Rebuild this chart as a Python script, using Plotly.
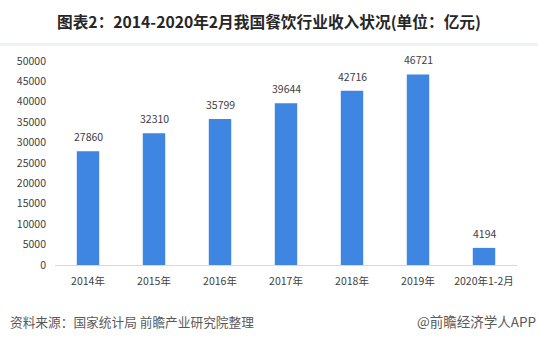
import plotly.graph_objects as go

categories = ["2014年", "2015年", "2016年", "2017年", "2018年", "2019年", "2020年1-2月"]
revenue = [27860, 32310, 35799, 39644, 42716, 46721, 4194]
y_ticks = [0, 5000, 10000, 15000, 20000, 25000, 30000, 35000, 40000, 45000, 50000]

FONT = "Noto Sans CJK SC"

fig = go.Figure(
    go.Bar(
        x=categories,
        y=revenue,
        width=0.34,
        marker=dict(color="#3F85E2", line=dict(width=0)),
        hoverinfo="skip",
    )
)

# value labels above each bar
for cat, val in zip(categories, revenue):
    fig.add_annotation(
        x=cat, y=val, text=str(val),
        xref="x", yref="y",
        showarrow=False, yanchor="bottom", yshift=5,
        font=dict(family=FONT, size=10.5, color="#404040"),
    )

fig.update_layout(
    width=538,
    height=341,
    margin=dict(l=55, r=21, t=61, b=76),
    paper_bgcolor="white",
    plot_bgcolor="white",
    showlegend=False,
    font=dict(family=FONT, size=10.5, color="#404040"),
    title=dict(
        text="<b>图表2：2014-2020年2月我国餐饮行业收入状况(单位：亿元)</b>",
        x=0.5,
        xanchor="center",
        y=0.935,
        yanchor="middle",
        font=dict(family=FONT, size=15.7, color="#262626"),
    ),
    xaxis=dict(
        type="category",
        showgrid=False,
        showline=True,
        linecolor="#D9D9D9",
        linewidth=1,
        ticks="",
        ticklabelstandoff=6,
        tickfont=dict(family=FONT, size=10.5, color="#404040"),
    ),
    yaxis=dict(
        range=[0, 50000],
        tickvals=y_ticks,
        ticktext=[str(t) for t in y_ticks],
        showgrid=False,
        showline=False,
        zeroline=False,
        ticks="",
        ticklabelstandoff=8,
        tickfont=dict(family=FONT, size=10.5, color="#404040"),
    ),
    shapes=[
        # pale divider band under the title
        dict(
            type="rect", xref="paper", yref="paper",
            x0=-55 / 462, x1=1 + 21 / 462,
            y0=(265 - 46) / 204, y1=(265 - 43) / 204,
            fillcolor="#EEF2F9", line=dict(width=0), layer="below",
        ),
    ],
)

fig.add_annotation(
    text="资料来源：国家统计局 前瞻产业研究院整理",
    xref="paper", yref="paper",
    x=-47 / 462, y=-(321 - 265) / 204,
    xanchor="left", yanchor="middle", showarrow=False,
    font=dict(family=FONT, size=12.7, color="#595959"),
)
fig.add_annotation(
    text="@前瞻经济学人APP",
    xref="paper", yref="paper",
    x=1 + 21 / 462, y=-(321 - 265) / 204,
    xanchor="right", yanchor="middle", showarrow=False,
    font=dict(family=FONT, size=13.5, color="#595959"),
)

fig.write_html("out.html")
